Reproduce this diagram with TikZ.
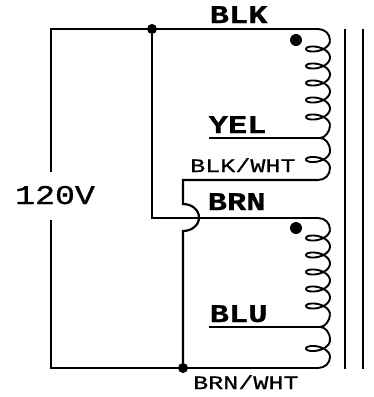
\documentclass[tikz,border=0pt]{standalone}
\usepackage{graphicx}
\usepackage{fontspec}
\setmainfont{Liberation Mono}
\newfontfamily\smallface[FakeBold=0.6]{Liberation Mono}
\newfontfamily\voltface[FakeBold=1.0]{Liberation Mono}
\newfontfamily\bigface[FakeBold=0.6]{Liberation Mono Bold}
\tikzset{
  wire/.style={line width=2.2pt,line join=miter},
  coilwire/.style={line width=1.9pt,line join=round},
  junction/.style={circle,fill=black,inner sep=0pt,minimum size=10pt},
  phasedot/.style={circle,fill=black,inner sep=0pt,minimum size=12pt},
  big/.style={anchor=base west,inner sep=0pt,font=\fontsize{25.5}{25.5}\bigface},
  small/.style={anchor=base west,inner sep=0pt,font=\fontsize{19}{19}\smallface},
  volt/.style={anchor=base west,inner sep=0pt,font=\fontsize{27}{27}\voltface},
}
\newcommand{\widetext}[2]{\scalebox{#1}[1]{#2}}
\begin{document}
\begin{tikzpicture}[x=1pt,y=-1pt]
\useasboundingbox (0,0) rectangle (374,397);
% named points
\coordinate (tl) at (51,29);
\coordinate (lg1) at (51,172);
\coordinate (lg2) at (51,220);
\coordinate (bl) at (51,368);
\coordinate (c1a) at (318,29);
\coordinate (c1t) at (320,138);
\coordinate (c1b) at (318,180);
\coordinate (c2a) at (318,218);
\coordinate (c2t) at (320,327);
\coordinate (c2b) at (318,368);
\node[junction] (j1) at (152,29) {};
\node[junction] (j2) at (183,368) {};
\node[phasedot] (d1) at (296,40) {};
\node[phasedot] (d2) at (296,228) {};
\coordinate (yelend) at (209,138);
\coordinate (bluend) at (209,327);
\coordinate (hopt) at (183,180);
\coordinate (hop1) at (183,204);
\coordinate (hop2) at (183,231);
\coordinate (bend) at (152,218);
% wires
\draw[wire] (lg1) -- (tl) -- (c1a);
\draw[wire] (lg2) -- (bl) -- (c2b);
\draw[wire] (j1) -- (bend) -- (c2a);
\draw[wire] (c1b) -- (hopt) -- (hop1)
  .. controls (192,204) and (199,210) .. (199,217.5)
  .. controls (199,225) and (192,231) .. (hop2) -- (j2);
\draw[wire] (yelend) -- (c1t);
\draw[wire] (bluend) -- (c2t);
% coils
\foreach \ya/\yt/\yb/\ln in {29/138/180/1, 218/327/368/2}{
  \pgfmathsetmacro{\ys}{\ya+11.5}
  \pgfmathsetmacro{\ye}{\ys+85}
  \pgfmathsetmacro{\yu}{\yt+13}
  \draw[coilwire] (318,\ya) .. controls (325,\ya) and (330,\ya+5) .. (330,\ys);
  \draw[coilwire,smooth,samples=161,domain=0:31.416,variable=\t]
    plot ({318+12*cos(\t r)},{\ys+17*\t/6.2832+6.2*sin(\t r)});
  \draw[coilwire] (330,\ye) .. controls (330,\ye+6) and (325,\yt) .. (320,\yt);
  \draw[coilwire] (320,\yt) .. controls (325,\yt) and (330,\yt+5) .. (330,\yu);
  \draw[coilwire,smooth,samples=41,domain=0:6.2832,variable=\t]
    plot ({318+12*cos(\t r)},{\yu+17*\t/6.2832+6.2*sin(\t r)});
  \draw[coilwire] (330,\yu+17) .. controls (330,\yb-5) and (325,\yb) .. (318,\yb);
}
% core
\coordinate (k1a) at (345,29); \coordinate (k1b) at (345,369);
\coordinate (k2a) at (363,29); \coordinate (k2b) at (363,369);
\draw[wire] (k1a) -- (k1b);
\draw[wire] (k2a) -- (k2b);
% labels
\node[big] (lblk) at (209.5,23) {\widetext{1.26}{BLK}};
\node[big] (lyel) at (208.5,133) {\widetext{1.26}{YEL}};
\node[big] (lbrn) at (207.5,210) {\widetext{1.26}{BRN}};
\node[big] (lblu) at (209.5,322) {\widetext{1.26}{BLU}};
\node[small] (lbw) at (190,172) {\widetext{1.32}{BLK/WHT}};
\node[small] (lnw) at (193,389) {\widetext{1.32}{BRN/WHT}};
\node[volt] (lv) at (15,204) {\widetext{1.23}{120V}};
\end{tikzpicture}
\end{document}
